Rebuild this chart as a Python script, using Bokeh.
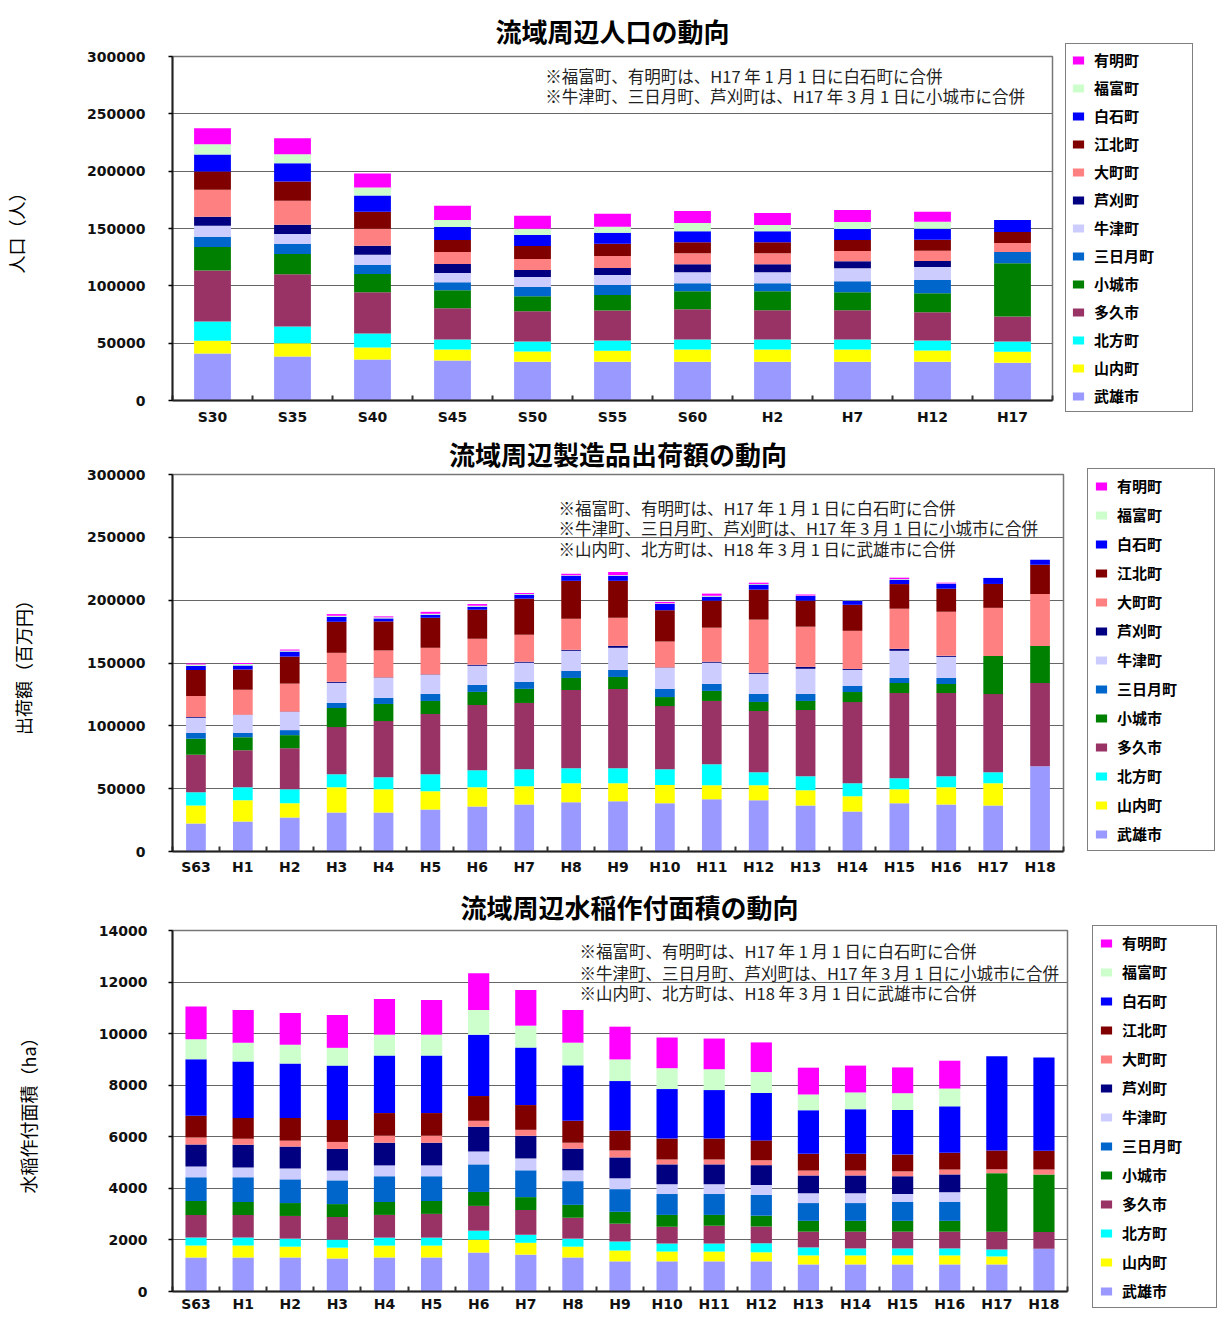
from bokeh.plotting import figure
from bokeh.models import (ColumnDataSource, FixedTicker, Legend, LegendItem, Label,
                          Range1d, PrintfTickFormatter)
from bokeh.layouts import column
from bokeh.embed import file_html
from bokeh.resources import INLINE

# ---------------- common ----------------
towns = ["武雄市", "山内町", "北方町", "多久市", "小城市", "三日月町", "牛津町",
         "芦刈町", "大町町", "江北町", "白石町", "福富町", "有明町"]
town_colors = ["#9999FF", "#FFFF00", "#00FFFF", "#993366", "#008000", "#0066CC",
               "#CCCCFF", "#000080", "#FF8080", "#800000", "#0000FF", "#CCFFCC", "#FF00FF"]

note_fukudomi = "※福富町、有明町は、H17 年 1 月 1 日に白石町に合併"
note_ushizu = "※牛津町、三日月町、芦刈町は、H17 年 3 月 1 日に小城市に合併"
note_yamauchi = "※山内町、北方町は、H18 年 3 月 1 日に武雄市に合併"

# ---------------- chart 1 : population ----------------
pop_years = ["S30", "S35", "S40", "S45", "S50", "S55", "S60", "H2", "H7", "H12", "H17"]
pop_takeo = [40900, 38300, 35700, 34800, 33900, 33900, 33900, 33900, 33900, 33900, 33000]
pop_yamauchi = [11100, 11700, 10500, 9600, 8800, 9400, 10500, 10500, 10500, 9600, 9600]
pop_kitagata = [17000, 14600, 12300, 8800, 8800, 9100, 8800, 8800, 8800, 8800, 8800]
pop_taku = [44400, 45600, 36000, 27200, 26300, 26000, 26300, 25400, 25400, 24600, 21900]
pop_ogi = [20500, 17500, 15800, 15800, 13200, 13500, 15800, 16700, 15800, 16700, 46500]
pop_mikazuki = [8800, 8800, 7900, 7000, 7900, 8800, 7000, 7000, 9600, 11400, 9600]
pop_ushizu = [9600, 8800, 8800, 7900, 8800, 8800, 9600, 9600, 11400, 11400, 0]
pop_ashikari = [7900, 7900, 7900, 7900, 6100, 6100, 7000, 7000, 6100, 5300, 0]
pop_omachi = [23700, 21100, 14900, 10500, 9600, 10500, 9600, 9600, 8800, 8800, 7900]
pop_kouhoku = [15800, 16700, 14900, 10500, 11400, 10500, 9600, 9600, 9600, 9600, 9600]
pop_shiroishi = [14900, 15800, 14000, 11400, 9600, 9600, 9600, 9600, 9600, 9600, 10500]
pop_fukudomi = [8800, 7900, 7000, 6100, 5300, 5300, 7000, 5300, 6100, 6100, 0]
pop_ariake = [14000, 14000, 12300, 12300, 11400, 11400, 10500, 10500, 10500, 8800, 0]

# ---------------- chart 2 : shipments (million yen) ----------------
heisei_years = ["S63", "H1", "H2", "H3", "H4", "H5", "H6", "H7", "H8", "H9",
                "H10", "H11", "H12", "H13", "H14", "H15", "H16", "H17", "H18"]
ship_takeo = [22300, 23900, 27100, 31100, 31100, 33500, 35900, 37500, 39100, 39900,
              38300, 41500, 40700, 36700, 31900, 38300, 37500, 36700, 67800]
ship_yamauchi = [14400, 16800, 11200, 20000, 18400, 14400, 15200, 14400, 15200, 14400,
                 14600, 11200, 12000, 12000, 12000, 11200, 13600, 17600, 0]
ship_kitagata = [10400, 10400, 11200, 10400, 9600, 13600, 13600, 13600, 12000, 12000,
                 12500, 16800, 10400, 11200, 10400, 8800, 8800, 8800, 0]
ship_taku = [29800, 29500, 32700, 37500, 44700, 47900, 51900, 52700, 62200, 63000,
             50300, 50300, 48700, 52700, 64600, 67800, 66200, 62200, 66200]
ship_ogi = [12800, 10400, 10400, 15200, 13600, 10400, 10400, 11200, 9600, 9600,
            7200, 8000, 7200, 7200, 8000, 8000, 7200, 30300, 29500]
ship_mikazuki = [4500, 3200, 4000, 4000, 4800, 5600, 5600, 5600, 5600, 5600,
                 6400, 5600, 6400, 5600, 4800, 4000, 4800, 0, 0]
ship_ushizu = [12200, 14400, 14400, 16000, 16000, 15200, 15200, 15200, 16000, 17600,
               16800, 16800, 16000, 20000, 12800, 21600, 16800, 0, 0]
ship_ashikari = [600, 300, 300, 800, 300, 300, 800, 800, 800, 1600,
                 300, 800, 800, 1600, 800, 1600, 800, 0, 0]
ship_omachi = [16800, 19900, 22300, 23100, 21500, 21200, 20700, 21500, 24700, 22300,
               20700, 27100, 42300, 31900, 30300, 31900, 35100, 38300, 41500]
ship_kouhoku = [20700, 16000, 21500, 24700, 23100, 23900, 23100, 28700, 30200, 29400,
                24900, 21500, 23900, 20700, 20700, 19600, 18300, 19000, 23100]
ship_shiroishi = [3200, 3200, 4000, 4000, 2400, 2400, 2400, 3200, 4000, 4000,
                  5000, 3200, 4000, 3800, 3200, 3500, 4000, 4800, 4000]
ship_fukudomi = [1200, 1200, 800, 800, 800, 800, 800, 500, 400, 500,
                 500, 700, 500, 300, 300, 500, 300, 0, 0]
ship_ariake = [800, 800, 800, 1300, 800, 1500, 1300, 800, 1200, 2500,
               1100, 1700, 1000, 800, 0, 1100, 500, 0, 0]

# ---------------- chart 3 : paddy rice area (ha) ----------------
rice_takeo = [1320, 1320, 1320, 1280, 1320, 1320, 1510, 1430, 1320, 1170,
              1170, 1170, 1170, 1050, 1050, 1050, 1050, 1050, 1660]
rice_yamauchi = [460, 460, 420, 420, 460, 460, 500, 460, 420, 420,
                 380, 380, 350, 350, 350, 350, 350, 310, 0]
rice_kitagata = [310, 310, 310, 310, 310, 310, 350, 310, 310, 350,
                 310, 310, 350, 310, 270, 270, 270, 270, 0]
rice_taku = [880, 880, 880, 880, 880, 920, 960, 960, 810, 690,
             650, 690, 650, 610, 650, 650, 650, 690, 650]
rice_ogi = [540, 500, 500, 500, 500, 500, 540, 500, 500, 460,
            460, 420, 420, 420, 420, 420, 420, 2270, 2230]
rice_mikazuki = [920, 960, 920, 920, 1000, 960, 1070, 1040, 920, 880,
                 810, 810, 810, 690, 690, 730, 730, 0, 0]
rice_ushizu = [420, 380, 420, 380, 420, 420, 500, 460, 420, 420,
               380, 380, 380, 380, 380, 310, 380, 0, 0]
rice_ashikari = [850, 880, 850, 840, 880, 880, 960, 880, 840, 810,
                 770, 770, 770, 690, 690, 690, 690, 0, 0]
rice_omachi = [270, 230, 230, 270, 270, 270, 230, 230, 230, 270,
               190, 190, 190, 190, 190, 190, 190, 150, 190]
rice_kouhoku = [850, 810, 880, 850, 880, 880, 960, 960, 850, 770,
                810, 810, 770, 650, 650, 650, 650, 730, 730]
rice_shiroishi = [2190, 2190, 2110, 2110, 2230, 2230, 2380, 2230, 2150, 1920,
                  1920, 1880, 1840, 1690, 1730, 1730, 1800, 3650, 3610]
rice_fukudomi = [770, 730, 730, 690, 810, 810, 960, 850, 880, 840,
                 810, 810, 810, 610, 650, 650, 690, 0, 0]
rice_ariake = [1270, 1270, 1230, 1270, 1380, 1340, 1420, 1380, 1270, 1270,
               1190, 1190, 1150, 1040, 1040, 1000, 1080, 0, 0]

pop_series = [pop_takeo, pop_yamauchi, pop_kitagata, pop_taku, pop_ogi, pop_mikazuki,
              pop_ushizu, pop_ashikari, pop_omachi, pop_kouhoku, pop_shiroishi,
              pop_fukudomi, pop_ariake]
ship_series = [ship_takeo, ship_yamauchi, ship_kitagata, ship_taku, ship_ogi, ship_mikazuki,
               ship_ushizu, ship_ashikari, ship_omachi, ship_kouhoku, ship_shiroishi,
               ship_fukudomi, ship_ariake]
rice_series = [rice_takeo, rice_yamauchi, rice_kitagata, rice_taku, rice_ogi, rice_mikazuki,
               rice_ushizu, rice_ashikari, rice_omachi, rice_kouhoku, rice_shiroishi,
               rice_fukudomi, rice_ariake]

JP = "Noto Sans CJK JP"
NUM = "DejaVu Sans"


def make_chart(title, cats, series, ymax, ystep, ylabel, notes, note_x, note_ys,
               title_standoff, title_align, title_offset,
               frame_w, frame_h, left, top, bottom, width, bar_w,
               label_standoff, axis_label_standoff, x_label_standoff,
               leg_x, leg_y, leg_spacing, leg_padding, leg_label_w):
    n = len(cats)
    xs = list(range(1, n + 1))
    data = {"x": xs}
    for name, vals in zip(towns, series):
        data[name] = vals
    src = ColumnDataSource(data)

    p = figure(frame_width=frame_w, frame_height=frame_h,
               x_range=Range1d(0.5, n + 0.5), y_range=Range1d(0, ymax),
               output_backend="svg", toolbar_location=None,
               min_border_left=left, min_border_right=width - left - frame_w,
               min_border_top=top, min_border_bottom=bottom)
    p.background_fill_color = "white"
    p.border_fill_color = "white"
    p.outline_line_color = "#777777"
    p.outline_line_width = 1.5

    rs = p.vbar_stack(towns, x="x", width=bar_w, fill_color=town_colors,
                      line_color=None, source=src)

    # title
    p.title.text = title
    p.title.align = title_align
    p.title.offset = title_offset
    p.title.standoff = title_standoff
    p.title.text_font = JP
    p.title.text_font_size = "26px"
    p.title.text_font_style = "bold"
    p.title.text_color = "black"

    # y axis
    yax = p.yaxis[0]
    yax.ticker = FixedTicker(ticks=list(range(0, ymax + 1, ystep)))
    yax.formatter = PrintfTickFormatter(format="%d")
    yax.axis_label = ylabel
    yax.axis_label_text_font = JP
    yax.axis_label_text_font_size = "18px"
    yax.axis_label_text_font_style = "normal"
    yax.axis_label_text_color = "black"
    yax.axis_label_standoff = axis_label_standoff
    yax.major_label_text_font = NUM
    yax.major_label_text_font_size = "14px"
    yax.major_label_text_font_style = "bold"
    yax.major_label_text_color = "#111111"
    yax.major_label_standoff = label_standoff
    yax.major_tick_in = 0
    yax.major_tick_out = 4
    yax.major_tick_line_width = 1.5
    yax.minor_tick_line_color = None
    yax.axis_line_width = 2
    yax.axis_line_color = "#222222"

    # x axis
    xax = p.xaxis[0]
    xax.ticker = FixedTicker(ticks=xs, minor_ticks=[i + 0.5 for i in range(n + 1)])
    xax.major_label_overrides = {i + 1: c for i, c in enumerate(cats)}
    xax.major_tick_line_color = None
    xax.major_tick_in = 0
    xax.major_tick_out = 0
    xax.minor_tick_in = 5
    xax.minor_tick_out = 0
    xax.minor_tick_line_width = 2
    xax.minor_tick_line_color = "#333333"
    xax.major_label_text_font = NUM
    xax.major_label_text_font_size = "14px"
    xax.major_label_text_font_style = "bold"
    xax.major_label_text_color = "#111111"
    xax.major_label_standoff = x_label_standoff
    xax.axis_line_width = 2
    xax.axis_line_color = "#222222"

    p.xgrid.visible = False
    p.ygrid.grid_line_color = "#666666"
    p.ygrid.grid_line_width = 1.2

    # notes
    for t, y in zip(notes, note_ys):
        p.add_layout(Label(x=note_x, y=y, text=t, text_font=JP, text_font_size="16.5px",
                           text_baseline="middle", text_align="left",
                           text_color="#222222"))

    # legend
    items = [LegendItem(label=name, renderers=[r]) for name, r in zip(towns, rs)][::-1]
    leg = Legend(items=items, location=(leg_x, leg_y), margin=0, padding=leg_padding,
                 spacing=leg_spacing, glyph_width=14, glyph_height=10,
                 label_height=20, label_width=leg_label_w, label_standoff=9,
                 label_text_font=JP, label_text_font_size="15px",
                 label_text_font_style="bold", label_text_color="black",
                 border_line_color="black", border_line_width=1,
                 background_fill_color="white", background_fill_alpha=1)
    p.add_layout(leg, "right")
    return p


p1 = make_chart("流域周辺人口の動向", pop_years, pop_series, 300000, 50000, "人口（人）",
                [note_fukudomi, note_ushizu], 5.16, [283430, 265120],
                title_standoff=15, title_align="center", title_offset=0,
                frame_w=880, frame_h=344, left=164, top=56, bottom=28, width=1207,
                bar_w=0.46, label_standoff=23, axis_label_standoff=55, x_label_standoff=8,
                leg_x=13, leg_y=-12, leg_spacing=7, leg_padding=5, leg_label_w=93)

p2 = make_chart("流域周辺製造品出荷額の動向", heisei_years, ship_series, 300000, 50000,
                "出荷額（百万円）",
                [note_fukudomi, note_ushizu, note_yamauchi], 8.73, [273740, 257030, 240320],
                title_standoff=6, title_align="center", title_offset=0,
                frame_w=891, frame_h=377, left=164, top=46, bottom=27, width=1207,
                bar_w=0.42, label_standoff=23, axis_label_standoff=48, x_label_standoff=7,
                leg_x=24, leg_y=0, leg_spacing=8, leg_padding=6, leg_label_w=91)

p3 = make_chart("流域周辺水稲作付面積の動向", heisei_years, rice_series, 14000, 2000,
                "水稲作付面積（ha）",
                [note_fukudomi, note_ushizu, note_yamauchi], 9.14, [13186, 12371, 11557],
                title_standoff=12, title_align="left", title_offset=288,
                frame_w=895, frame_h=361, left=162, top=52, bottom=25, width=1207,
                bar_w=0.45, label_standoff=21, axis_label_standoff=55, x_label_standoff=4,
                leg_x=25, leg_y=-17, leg_spacing=8, leg_padding=6, leg_label_w=88)

layout = column(p1, p2, p3, spacing=0)

open("out.html", "w").write(file_html(layout, INLINE))
